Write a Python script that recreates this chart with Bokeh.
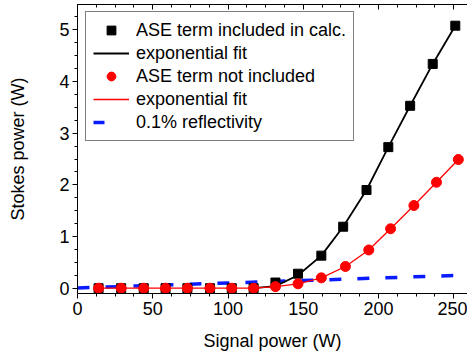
from bokeh.plotting import figure
from bokeh.models import (LinearAxis, SingleIntervalTicker, Legend, LegendItem,
                          Range1d, CustomLabelingPolicy)
from bokeh.embed import file_html
from bokeh.resources import INLINE

# ---- data ----
black_x = [14, 29, 44, 58.5, 73, 88, 102.5, 117, 131.5, 146.5, 162, 176.5, 192, 206.5, 221, 236, 251]
black_y = [0, 0, 0, 0, 0, 0, 0, 0, 0.11, 0.28, 0.63, 1.19, 1.90, 2.73, 3.53, 4.34, 5.08]

black_fit_x = [117, 131.5, 146.5, 162, 176.5, 192, 206.5, 221, 236, 251]
black_fit_y = [0.0, 0.04, 0.25, 0.63, 1.19, 1.90, 2.73, 3.53, 4.34, 5.08]

red_x = [14, 29, 44, 58.5, 73, 88, 102.5, 117, 131.5, 146.5, 162, 178, 193.5, 208, 223.5, 238.5, 253]
red_y = [0, 0, 0, 0, 0, 0, 0, 0, 0.03, 0.085, 0.20, 0.42, 0.74, 1.15, 1.60, 2.05, 2.49]

refl_x = [0, 260]
refl_y = [0.005, 0.255]

legend_labels = ["ASE term included in calc.", "exponential fit", "ASE term not included",
                 "exponential fit", "0.1% reflectivity"]
x_label = "Signal power (W)"
y_label = "Stokes power (W)"

FONT = "Liberation Sans"
FS = "18px"

p = figure(width=467, height=356, output_backend="svg", toolbar_location=None,
           x_range=Range1d(0, 259.1), y_range=Range1d(-0.1025, 5.49),
           min_border_left=77, min_border_right=0, min_border_top=4, min_border_bottom=63,
           outline_line_color=None, background_fill_color="white",
           border_fill_color="white")
p.grid.visible = False

xt = SingleIntervalTicker(interval=50, num_minor_ticks=4)
yt = SingleIntervalTicker(interval=1, num_minor_ticks=4)

for ax in p.xaxis:
    ax.ticker = xt
for ax in p.yaxis:
    ax.ticker = yt

def style_axis(ax):
    ax.axis_line_color = "black"
    ax.axis_line_width = 1
    ax.major_tick_line_color = "black"
    ax.minor_tick_line_color = "black"
    ax.major_label_text_font = FONT
    ax.major_label_text_font_size = FS
    ax.major_label_text_color = "black"
    ax.axis_label_text_font = FONT
    ax.axis_label_text_font_size = FS
    ax.axis_label_text_font_style = "normal"
    ax.axis_label_text_color = "black"

xa = p.xaxis[0]
style_axis(xa)
xa.axis_label = x_label
xa.major_tick_out = 5
xa.major_tick_in = 0
xa.minor_tick_out = 3
xa.minor_tick_in = 0
xa.major_label_standoff = 3
xa.axis_label_standoff = 13

ya = p.yaxis[0]
style_axis(ya)
ya.axis_label = y_label
ya.major_tick_out = 5
ya.major_tick_in = 0
ya.minor_tick_out = 3
ya.minor_tick_in = 0
ya.major_label_standoff = 3
ya.axis_label_standoff = 28
ya.major_label_orientation = "horizontal"

top = LinearAxis(ticker=xt)
style_axis(top)
top.major_tick_out = 0
top.major_tick_in = 5
top.minor_tick_out = 0
top.minor_tick_in = 3
top.major_label_text_font_size = "0px"
top.major_label_standoff = 0
top.major_label_policy = CustomLabelingPolicy(code="return []")
p.add_layout(top, "above")

# ---- glyphs ----
r_refl = p.line(refl_x, refl_y, line_color="#0a1cff", line_width=3.5, line_dash="12 16")
r_bfit = p.line(black_fit_x, black_fit_y, line_color="black", line_width=1.8)
r_bsq = p.scatter(black_x, black_y, marker="square", size=9, fill_color="black", line_color="black")
r_rfit = p.line(red_x, red_y, line_color="#ff0000", line_width=1.3)
r_rc = p.scatter(red_x, red_y, marker="circle", size=10, fill_color="#ff0000", line_color="#ff0000")

# legend-only glyph for the short blue dash (not drawn in the plot area)
r_refl_leg = p.line([float("nan")], [float("nan")], line_color="#0a1cff", line_width=3.5,
                    line_dash="11 40")

legend = Legend(items=[
    LegendItem(label=legend_labels[0], renderers=[r_bsq]),
    LegendItem(label=legend_labels[1], renderers=[r_bfit]),
    LegendItem(label=legend_labels[2], renderers=[r_rc]),
    LegendItem(label=legend_labels[3], renderers=[r_rfit]),
    LegendItem(label=legend_labels[4], renderers=[r_refl_leg]),
], location=(8, 152))
legend.label_text_font = FONT
legend.label_text_font_size = FS
legend.label_text_color = "black"
legend.border_line_color = "black"
legend.border_line_width = 1
legend.background_fill_color = "white"
legend.background_fill_alpha = 1
legend.padding = 7
legend.spacing = 1
legend.margin = 0
legend.glyph_width = 36
legend.glyph_height = 22
legend.label_height = 22
legend.label_standoff = 7
p.add_layout(legend)

open("out.html", "w").write(file_html(p, INLINE))
